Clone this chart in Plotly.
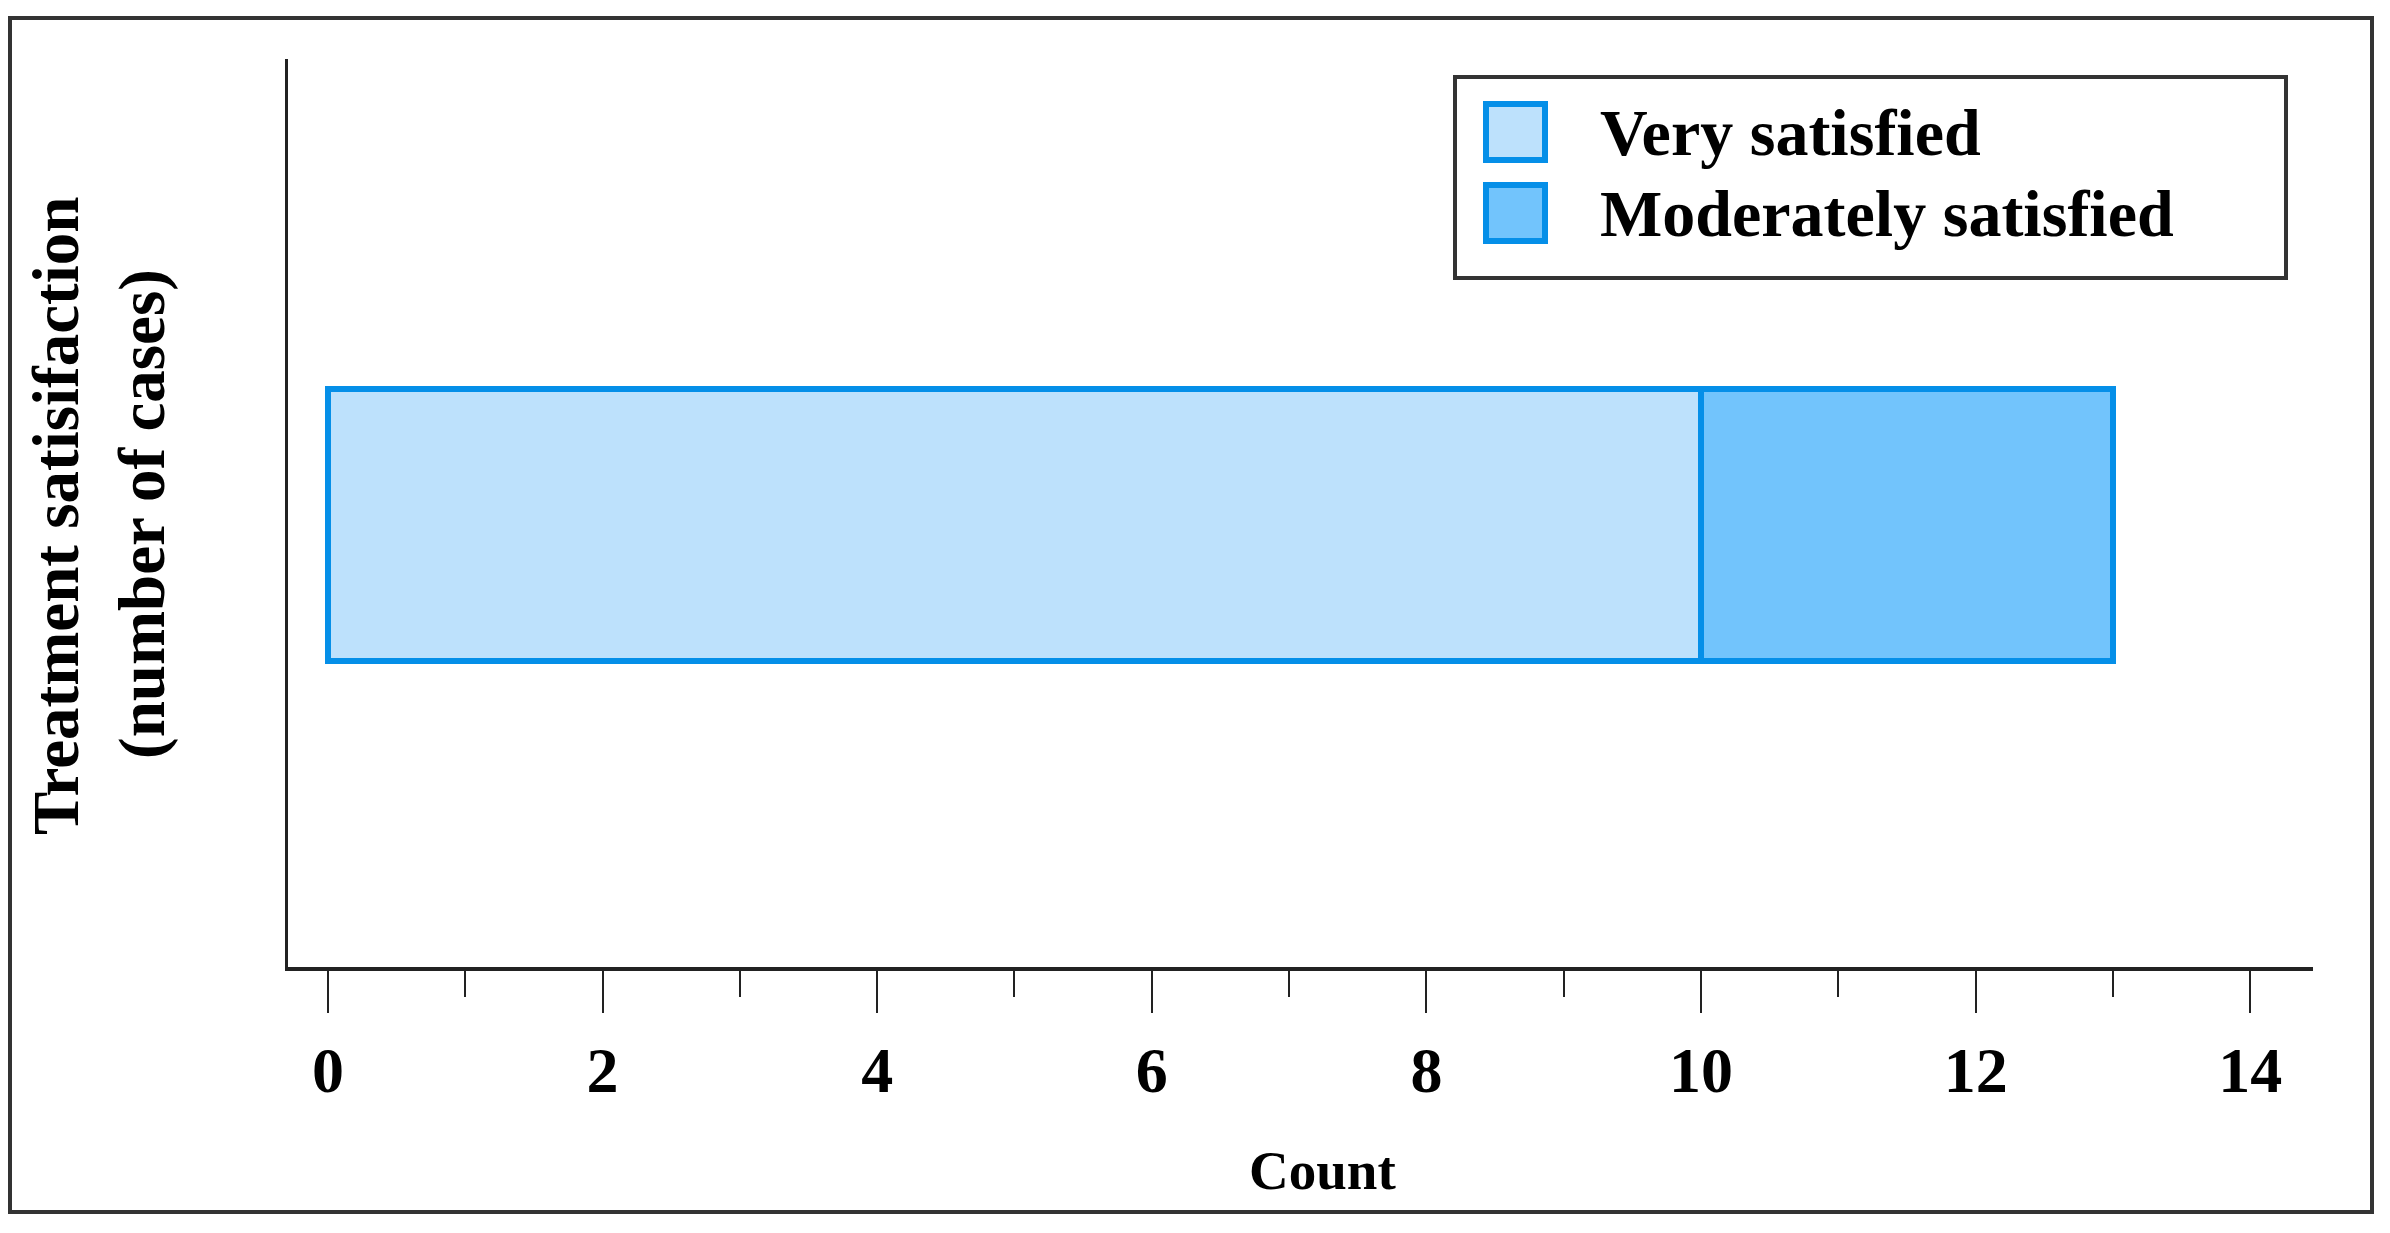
import plotly.graph_objects as go

# ---- data ----
categories = [0]
series_names = ["Very satisfied", "Moderately satisfied"]
very_satisfied = [10]
moderately_satisfied = [3]
fill_colors = ["#BDE1FC", "#72C4FC"]
edge_color = "#058FE8"
x_tick_values = [0, 2, 4, 6, 8, 10, 12, 14]
x_tick_labels = ["0", "2", "4", "6", "8", "10", "12", "14"]

# page body has an 8px margin; work in reference pixel coords and shift
OFF = 8
W, H = 2390 - OFF, 1233 - OFF
L, R, T, B = 288 - OFF, 2313 - OFF, 59 - OFF, 967 - OFF
FONT = "Liberation Serif, Times New Roman, serif"

def px(x):
    return (x - OFF - L) / (R - L)

def py(y):
    return (B - (y - OFF)) / (B - T)

fig = go.Figure()
for name, vals, col in zip(series_names, [very_satisfied, moderately_satisfied], fill_colors):
    fig.add_trace(go.Bar(
        y=categories, x=vals, orientation="h", name=name, width=1,
        marker=dict(color=col, line=dict(color=edge_color, width=6)),
        showlegend=False,
    ))

shapes = []
annotations = []
# outer frame
shapes.append(dict(type="rect", xref="paper", yref="paper",
                   x0=px(10), x1=px(2372), y0=py(18), y1=py(1212),
                   line=dict(color="#333333", width=4), fillcolor="rgba(0,0,0,0)", layer="below"))
# legend box
shapes.append(dict(type="rect", xref="paper", yref="paper",
                   x0=px(1455), x1=px(2286), y0=py(77), y1=py(278),
                   line=dict(color="#333333", width=4), fillcolor="white"))
leg_centers = [132, 213]
for name, col, cy in zip(series_names, fill_colors, leg_centers):
    shapes.append(dict(type="rect", xref="paper", yref="paper",
                       x0=px(1486), x1=px(1545), y0=py(cy + 28), y1=py(cy - 28),
                       line=dict(color=edge_color, width=6), fillcolor=col))
    annotations.append(dict(xref="paper", yref="paper", x=px(1598), y=py(cy),
                            xanchor="left", yanchor="middle", showarrow=False,
                            text="<b>" + name + "</b>", font=dict(family=FONT, size=66, color="black")))

# axis titles
annotations.append(dict(xref="paper", yref="paper", x=px(1322), y=py(1170),
                        xanchor="center", yanchor="middle", showarrow=False,
                        text="<b>Count</b>", font=dict(family=FONT, size=55, color="black")))
annotations.append(dict(xref="paper", yref="paper", x=px(56), y=py(516),
                        xanchor="center", yanchor="middle", showarrow=False, textangle=-90,
                        text="<b>Treatment satisifaction</b>", font=dict(family=FONT, size=65, color="black")))
annotations.append(dict(xref="paper", yref="paper", x=px(142), y=py(514),
                        xanchor="center", yanchor="middle", showarrow=False, textangle=-90,
                        text="<b>(number of cases)</b>", font=dict(family=FONT, size=65, color="black")))

fig.update_layout(
    width=W, height=H,
    margin=dict(l=L, r=W - R, t=T, b=H - B, pad=0),
    paper_bgcolor="white", plot_bgcolor="white",
    barmode="stack", showlegend=False,
    shapes=shapes, annotations=annotations,
    xaxis=dict(
        range=[-0.291, 14.457], tickmode="array", tickvals=x_tick_values, ticktext=x_tick_labels,
        ticks="outside", ticklen=42, tickwidth=2, tickcolor="#222222",
        showline=True, linecolor="#222222", linewidth=4, showgrid=False, zeroline=False,
        tickfont=dict(family=FONT, size=64, color="black", weight="bold"),
        ticklabelstandoff=2,
        minor=dict(dtick=1, tick0=0, ticks="outside", ticklen=26, tickwidth=2, tickcolor="#222222", showgrid=False),
    ),
    yaxis=dict(
        range=[-1.625, 1.713], showticklabels=False, ticks="",
        showline=True, linecolor="#222222", linewidth=3, showgrid=False, zeroline=False,
    ),
)

fig.write_html("out.html")
